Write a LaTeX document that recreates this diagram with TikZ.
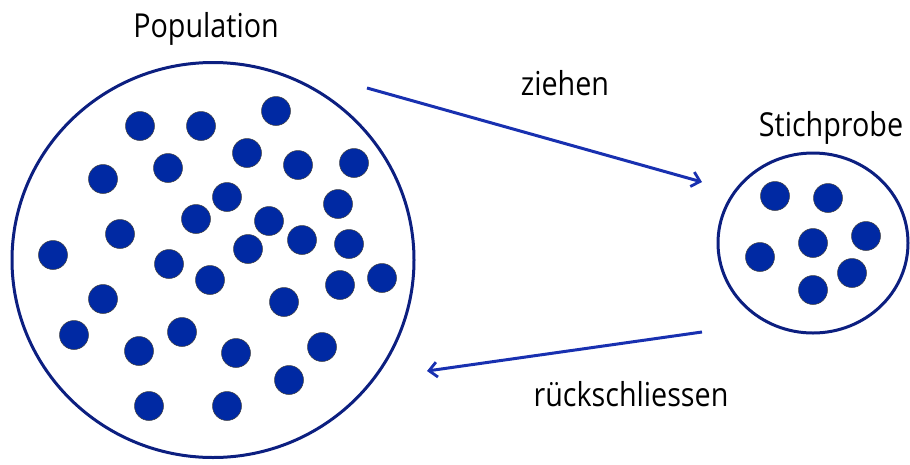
\documentclass[tikz,border=0pt]{standalone}
\usepackage{fontspec}
\setmainfont[FakeStretch=0.87]{Open Sans}
\usetikzlibrary{shapes.geometric,arrows.meta}
\definecolor{dotblue}{HTML}{0029A3}
\definecolor{rimblue}{HTML}{0C1F80}
\definecolor{arrblue}{HTML}{1830B0}
\tikzset{
  dotnode/.style={circle,fill=dotblue,draw=black!75,line width=0.5pt,minimum size=29pt,inner sep=0pt},
  setnode/.style={ellipse,draw=rimblue,line width=3pt,inner sep=0pt},
  flow/.style={draw=arrblue,line width=3pt,-{Straight Barb[length=8pt,width=15pt,line width=2.8pt]}},
  lbl/.style={font=\fontsize{33}{38}\selectfont,inner sep=0pt,anchor=base}
}
\begin{document}
\begin{tikzpicture}[x=1pt,y=-1pt]
\useasboundingbox (0,0) rectangle (910,464);
\node[setnode,minimum width=402pt,minimum height=395pt] (pop) at (213,260) {};
\node[setnode,minimum width=190pt,minimum height=180pt] (smp) at (813,243) {};
\node[lbl] (tpop) at (206,37) {Population};
\node[lbl] (tsmp) at (831,136) {Stichprobe};
\node[lbl] (tzie) at (565,95) {ziehen};
\node[lbl] (truck) at (631,406) {rückschliessen};
\foreach \x/\y [count=\i] in {140/126,201/126,276/111,103/179,168/168,247/153,298/165,354/163,227/197,338/204,196/219,269/221,120/234,302/240,349/244,53/255,248/249,169/264,210/280,340/285,382/278,103/299,284/302,74/335,182/332,139/351,236/353,322/347,289/380,149/406,227/406}
  \node[dotnode] (p\i) at (\x,\y) {};
\foreach \x/\y [count=\i] in {775/196,828/198,813/243,866/236,760/257,852/273,813/290}
  \node[dotnode] (s\i) at (\x,\y) {};
\coordinate (a1s) at (367,88);
\coordinate (a1e) at (702,182);
\coordinate (a2s) at (702,332);
\coordinate (a2e) at (427,371);
\draw[flow] (a1s) -- (a1e);
\draw[flow] (a2s) -- (a2e);
\end{tikzpicture}
\end{document}
